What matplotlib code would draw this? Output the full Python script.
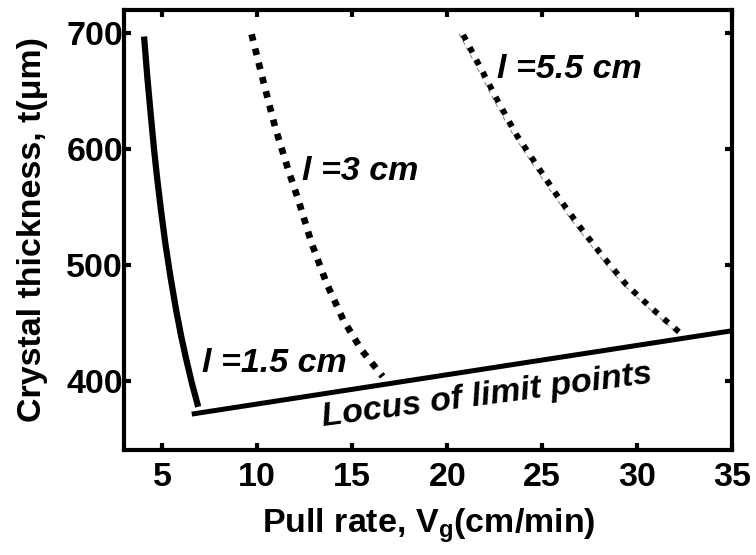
import matplotlib
matplotlib.use("Agg")
import matplotlib.pyplot as plt
import matplotlib.transforms as mtransforms

plt.rcParams['font.family'] = ['Liberation Sans', 'DejaVu Sans']
plt.rcParams['font.weight'] = 'bold'
plt.rcParams['mathtext.fontset'] = 'custom'
plt.rcParams['mathtext.rm'] = 'Liberation Sans:bold'
plt.rcParams['mathtext.bf'] = 'Liberation Sans:bold'

# ---- data ----
l15_x = [4.04, 4.21, 4.37, 4.57, 4.72, 4.93, 5.16, 5.43, 5.73, 6.00, 6.27, 6.56, 6.89]
l15_y = [697.1, 662.5, 633.7, 599.1, 576.1, 547.3, 518.5, 489.6, 460.8, 437.8, 417.6, 397.6, 377.3]

l3_x = [9.7, 10.32, 10.93, 11.63, 12.16, 12.86, 13.65, 14.53, 15.49, 16.6]
l3_y = [699, 658.2, 619.3, 581.9, 556.0, 518.5, 483.9, 452.2, 426.3, 403.5]

l55_x = [20.84, 21.81, 22.68, 23.65, 24.7, 25.76, 26.9, 28.13, 29.44, 30.76, 32.3]
l55_y = [698.5, 668.3, 640.9, 612.1, 586.2, 560.3, 534.4, 508.4, 482.5, 462.3, 440.5]

locus_x = [6.55, 35.0]
locus_y = [371, 443]

x_ticks = [5, 10, 15, 20, 25, 30, 35]
y_ticks = [400, 500, 600, 700]

fig = plt.figure(figsize=(7.56, 5.55), dpi=100)
ax = fig.add_axes([0.1644, 0.1892, 0.8042, 0.7928])

ax.plot(l15_x, l15_y, color='black', lw=4.5, solid_capstyle='butt', solid_joinstyle='round')
ax.plot(locus_x, locus_y, color='black', lw=3.6, solid_capstyle='butt')
ax.plot(l3_x, l3_y, color='black', lw=4.8, dashes=(1, 1.2), dash_capstyle='butt')

off = mtransforms.offset_copy(ax.transData, fig=fig, x=-4, y=1, units='dots')
ax.plot(l55_x, l55_y, color='#8a8a8a', lw=0.8, dashes=(4, 3), transform=off, zorder=1)
ax.plot(l55_x, l55_y, color='black', lw=4.2, dashes=(1, 1.4), dash_capstyle='butt', zorder=2)

ax.set_xlim(3, 35)
ax.set_ylim(340, 720)
ax.set_xticks(x_ticks)
ax.set_yticks(y_ticks)

fs = 24.5
ax.tick_params(direction='in', length=5, width=3, top=True, right=True,
               labelsize=fs)
ax.tick_params(axis='x', pad=9)
ax.tick_params(axis='y', pad=1)
for lab in ax.get_xticklabels() + ax.get_yticklabels():
    lab.set_fontweight('bold')
for s in ax.spines.values():
    s.set_linewidth(3)

ax.set_xlabel(r'Pull rate, V$_{\mathbf{g}}$(cm/min)', fontsize=fs, fontweight='bold', labelpad=9)
ax.set_ylabel('Crystal thickness, t(\u03bcm)', fontsize=fs, fontweight='bold', labelpad=13)

tk = dict(fontsize=fs, fontweight='bold', fontstyle='italic', color='black')
ax.text(7.09, 407.3, 'l =1.5 cm', ha='left', va='baseline', **tk)
ax.text(12.34, 573.2, 'l =3 cm', ha='left', va='baseline', **tk)
ax.text(22.6, 661.4, 'l =5.5 cm', ha='left', va='baseline', **tk)
ax.text(22.1, 386.6, 'Locus of limit points', ha='center', va='center',
        rotation=7.5, rotation_mode='anchor', **tk)

fig.savefig('out.png', dpi=100)
